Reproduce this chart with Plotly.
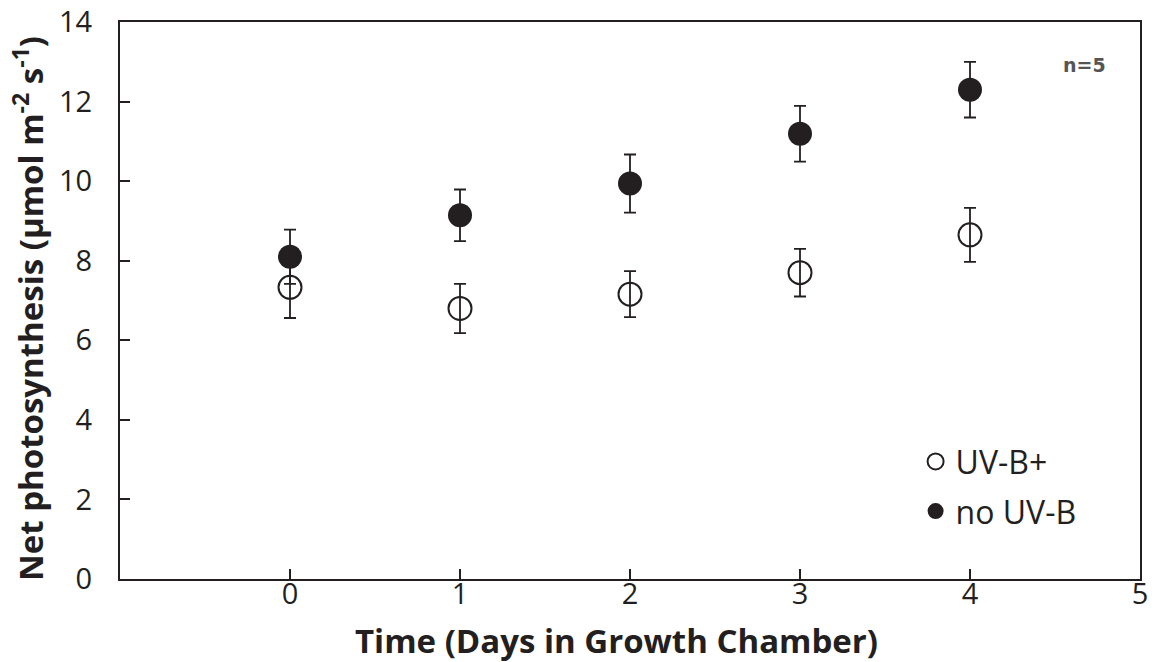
import plotly.graph_objects as go

days = [0, 1, 2, 3, 4]
uvb_plus = [7.33, 6.80, 7.16, 7.70, 8.65]
uvb_plus_err = [0.77, 0.62, 0.58, 0.60, 0.68]
no_uvb = [8.10, 9.14, 9.94, 11.19, 12.30]
no_uvb_err = [0.68, 0.65, 0.73, 0.70, 0.70]
x_ticks = [0, 1, 2, 3, 4, 5]
y_ticks = [0, 2, 4, 6, 8, 10, 12, 14]

ink = "#231f20"
font_main = "Open Sans"

fig = go.Figure()
fig.add_trace(go.Scatter(
    x=days, y=uvb_plus, mode="markers", name="UV-B+",
    legendgroup="a",
    marker=dict(symbol="circle-open", size=23, color=ink, line=dict(width=2, color=ink)),
    error_y=dict(type="data", array=uvb_plus_err, visible=True, color=ink, thickness=1.8, width=6),
))
fig.add_trace(go.Scatter(
    x=days, y=no_uvb, mode="markers", name="no UV-B",
    legendgroup="b",
    marker=dict(symbol="circle", size=24, color=ink, line=dict(width=0)),
    error_y=dict(type="data", array=no_uvb_err, visible=True, color=ink, thickness=1.8, width=6),
))

fig.update_layout(
    width=1162, height=662,
    margin=dict(l=120, r=22, t=22, b=83, autoexpand=False),
    plot_bgcolor="white", paper_bgcolor="white",
    font=dict(family=font_main, color=ink),
    showlegend=True,
    legend=dict(
        x=0.78, y=0.26, xanchor="left", yanchor="top",
        font=dict(size=32, color=ink, family=font_main),
        bgcolor="rgba(0,0,0,0)", traceorder="grouped", tracegroupgap=5,
        itemwidth=30,
    ),
    xaxis=dict(
        range=[-1, 5], tickvals=x_ticks, ticktext=[str(v) for v in x_ticks],
        ticks="inside", ticklen=10, tickwidth=1.5, tickcolor=ink,
        showline=True, linecolor=ink, linewidth=2, mirror=True,
        showgrid=False, zeroline=False, automargin=False,
        tickfont=dict(size=29, color=ink), ticklabelstandoff=-12,
    ),
    yaxis=dict(
        range=[0, 14], tickvals=y_ticks,
        ticks="inside", ticklen=10, tickwidth=1.5, tickcolor=ink,
        showline=True, linecolor=ink, linewidth=2, mirror=True,
        showgrid=False, zeroline=False, automargin=False,
        tickfont=dict(size=29, color=ink), ticklabelstandoff=20,
    ),
    annotations=[
        dict(text="Net photosynthesis (µmol m<sup>-2</sup> s<sup>-1</sup>)",
             xref="paper", yref="paper", x=-0.089, y=0.485, xanchor="center", yanchor="middle",
             textangle=-90, showarrow=False, font=dict(size=33, color=ink, family=font_main, weight="bold")),
        dict(text="Time (Days in Growth Chamber)",
             xref="paper", yref="paper", x=0.487, y=-0.11, xanchor="center", yanchor="middle",
             showarrow=False, font=dict(size=33, color=ink, family=font_main, weight="bold")),
        dict(text="n=5", xref="paper", yref="paper", x=0.946, y=0.923, xanchor="center", yanchor="middle",
             showarrow=False, font=dict(size=19, color="#555555", family="DejaVu Sans", weight="bold")),
    ],
)

fig.write_html("out.html")
